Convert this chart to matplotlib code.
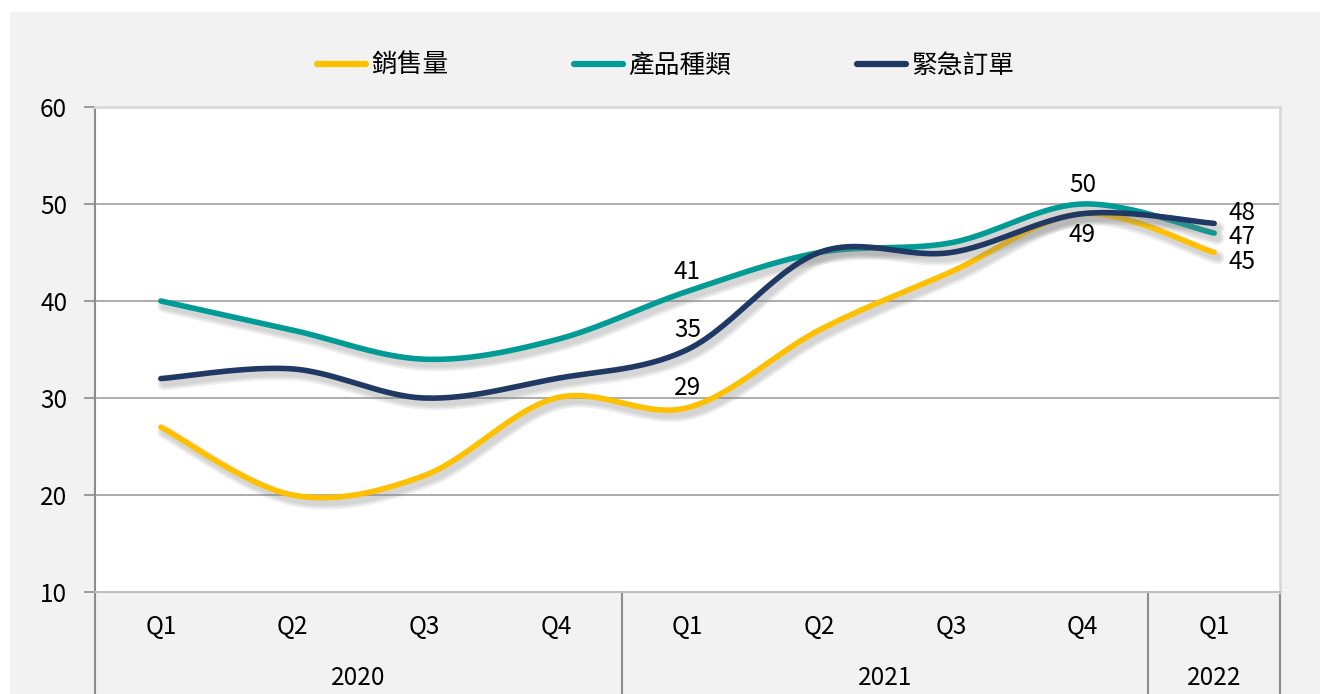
import matplotlib
matplotlib.use("Agg")
import matplotlib.pyplot as plt
import matplotlib.patheffects as pe
import numpy as np
from matplotlib.lines import Line2D
from matplotlib.patches import Rectangle

plt.rcParams["font.family"] = ["Noto Sans CJK TC", "DejaVu Sans"]

QUARTERS = ["Q1", "Q2", "Q3", "Q4", "Q1", "Q2", "Q3", "Q4", "Q1"]
YEARS = ["2020", "2021", "2022"]
YEAR_SPANS = [(0, 4), (4, 8), (8, 9)]  # [start, end) category indices

SERIES = ["銷售量", "產品種類", "緊急訂單"]
sales = [27, 20, 22, 30, 29, 37, 43, 49, 45]
products = [40, 37, 34, 36, 41, 45, 46, 50, 47]
urgent = [32, 33, 30, 32, 35, 45, 45, 49, 48]
COLORS = ["#ffc000", "#009b95", "#1f3864"]

# (series index, category index, offset in points)
LABELS = [
    (1, 4, (0, 14)), (2, 4, (0, 14)), (0, 4, (0, 14)),
    (1, 7, (0, 14)), (2, 7, (0, -15)),
    (2, 8, (20, 7.5)), (1, 8, (20, -3)), (0, 8, (20, -7)),
]

FS = 17.5


def smooth(xs, ys, n=30):
    """Excel-style smoothed line: cubic Bezier with Catmull-Rom control points."""
    xs = np.asarray(xs, float)
    ys = np.asarray(ys, float)
    px, py = [], []
    m = len(xs)
    for i in range(m - 1):
        p0 = np.array([xs[max(i - 1, 0)], ys[max(i - 1, 0)]])
        p1 = np.array([xs[i], ys[i]])
        p2 = np.array([xs[i + 1], ys[i + 1]])
        p3 = np.array([xs[min(i + 2, m - 1)], ys[min(i + 2, m - 1)]])
        c1 = p1 + (p2 - p0) / 6
        c2 = p2 - (p3 - p1) / 6
        t = np.linspace(0, 1, n)[:, None]
        pts = ((1 - t) ** 3) * p1 + 3 * ((1 - t) ** 2) * t * c1 + 3 * (1 - t) * t ** 2 * c2 + t ** 3 * p2
        px.extend(pts[:, 0])
        py.extend(pts[:, 1])
    return np.array(px), np.array(py)


fig = plt.figure(figsize=(13.2, 6.94), dpi=100, facecolor="#f2f2f2")
# white margin round the chart area
fig.patches.append(Rectangle((0, 1 - 12 / 694), 1, 12 / 694, transform=fig.transFigure,
                             facecolor="white", edgecolor="none", zorder=-5))
fig.patches.append(Rectangle((0, 0), 10 / 1320, 1, transform=fig.transFigure,
                             facecolor="white", edgecolor="none", zorder=-5))

ax = fig.add_axes([95 / 1320, 1 - 592 / 694, 1185 / 1320, 485 / 694])
ax.set_facecolor("white")
ax.set_xlim(-0.5, len(QUARTERS) - 0.5)
ax.set_ylim(10, 60)
ax.set_yticks(range(10, 61, 10))
ax.tick_params(axis="y", labelsize=FS, length=8, color="#8c8c8c", pad=12, width=1.2)
ax.set_xticks([])
for y in range(20, 60, 10):
    ax.axhline(y, color="#a6a6a6", linewidth=1.3, zorder=1)
ax.spines["left"].set_color("#8c8c8c")
ax.spines["left"].set_linewidth(1.5)
ax.spines["top"].set_color("#d9d9d9")
ax.spines["top"].set_linewidth(2)
ax.spines["right"].set_color("#d9d9d9")
ax.spines["right"].set_linewidth(2)
ax.spines["bottom"].set_color("#bfbfbf")
ax.spines["bottom"].set_linewidth(1.5)

data = [sales, products, urgent]
x = np.arange(len(QUARTERS))
shadow = [pe.SimpleLineShadow(offset=(2.5, -3.5), shadow_color="#7f7f7f", alpha=0.12, linewidth=lw)
          for lw in (10, 7.5, 5)] + [pe.Normal()]
for vals, color in zip(data, COLORS):
    sx, sy = smooth(x, vals)
    ax.plot(sx, sy, color=color, linewidth=4, solid_capstyle="round",
            path_effects=shadow, zorder=3)

for si, ci, off in LABELS:
    ax.annotate(str(data[si][ci]), (ci, data[si][ci]), xytext=off, textcoords="offset points",
                ha="center", va="center", fontsize=FS, color="black", zorder=5)

# multi-level category axis
for i, q in enumerate(QUARTERS):
    ax.text(i, -35 / 485, q, transform=ax.get_xaxis_transform(), ha="center", va="center",
            fontsize=FS)
for year, (a, b) in zip(YEARS, YEAR_SPANS):
    ax.text((a + b - 1) / 2, -86 / 485, year, transform=ax.get_xaxis_transform(),
            ha="center", va="center", fontsize=FS)
for b in [0, 4, 8, 9]:
    ax.add_line(Line2D([b - 0.5, b - 0.5], [0, -0.3], transform=ax.get_xaxis_transform(),
                       color="#8c8c8c", linewidth=1.5, clip_on=False))

handles = [Line2D([], [], color=c, linewidth=4.5, solid_capstyle="round") for c in COLORS]
fig.legend(handles, SERIES, loc="center", bbox_to_anchor=(0.504, 1 - 66 / 694), ncol=3,
           frameon=False, fontsize=18.5, handlelength=1.9, handletextpad=0.2, columnspacing=4.9)

fig.savefig("out.png", dpi=100, facecolor=fig.get_facecolor())
